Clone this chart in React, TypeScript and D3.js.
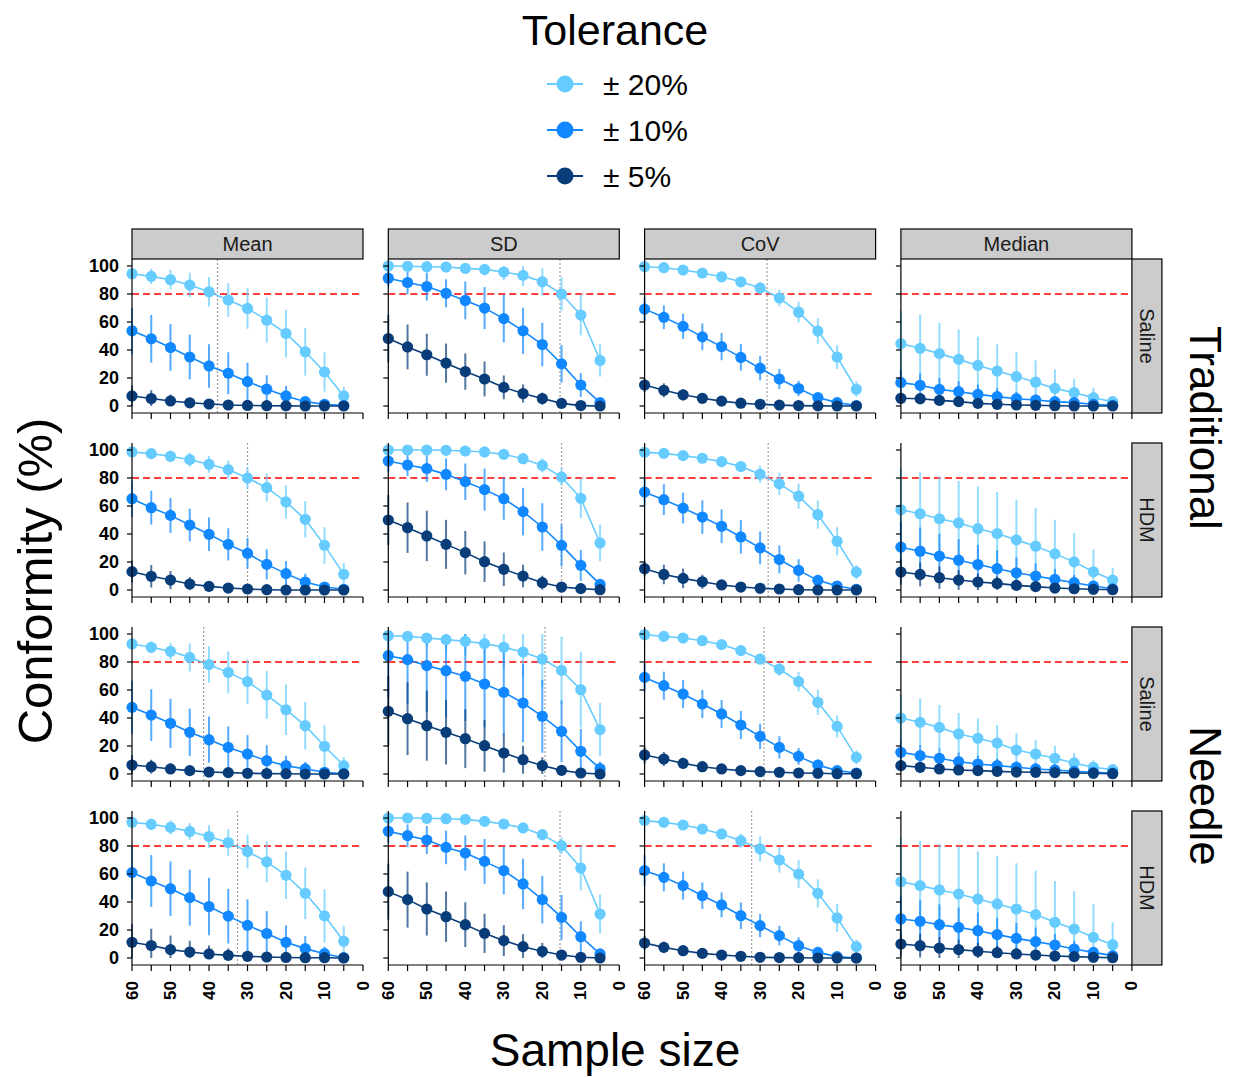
import React from "react";
import * as d3 from "d3";

// ---------- data ----------
const sampleSizes = [60, 55, 50, 45, 40, 35, 30, 25, 20, 15, 10, 5];
const xTicks = [60, 55, 50, 45, 40, 35, 30, 25, 20, 15, 10, 5, 0];
const xTickLabels = [60, 50, 40, 30, 20, 10, 0];
const yTicks = [0, 20, 40, 60, 80, 100];
const metrics = ["Mean", "SD", "CoV", "Median"];
const fluids = ["Saline", "HDM", "Saline", "HDM"];
const methods = ["Traditional", "Needle"];
const toleranceLabels = ["± 20%", "± 10%", "± 5%"];
const toleranceColors = ["#66CCFF", "#1188FF", "#083D7A"];
const threshold = 80;

// Row 1: Traditional / Saline
const tsMean20 = [94.5, 92.6, 90.2, 86.4, 81.6, 75.7, 69.7, 61.3, 51.8, 38.7, 24.3, 7.2];
const tsMean20e = [3, 5.5, 7, 8.7, 10.5, 12, 14.5, 16, 17, 17, 14, 6.5];
const tsMean10 = [53.7, 48, 41.8, 35, 28.6, 23.4, 17.4, 12, 7.2, 3.1, 1.2, 0.3];
const tsMean10e = [16.5, 17, 16.7, 16, 15.5, 15, 13.5, 10, 7, 3.5, 1.5, 0.5];
const tsMean5 = [7.2, 5.3, 3.6, 2.3, 1.4, 0.7, 0.4, 0.2, 0.1, 0, 0, 0];
const tsMean5e = [7.5, 6, 4.5, 3.5, 2.5, 1.5, 1, 0.5, 0, 0, 0, 0];
const tsSD20 = [100, 99.8, 99.5, 99.3, 98.3, 97.6, 95.7, 93.3, 88.7, 80, 65, 32.5];
const tsSD20e = [1, 1.5, 2, 3, 3.5, 4.5, 6, 7.7, 9.7, 12, 14.5, 11.5];
const tsSD10 = [91.3, 88.2, 85.3, 80.5, 75.4, 69.9, 62.4, 53.7, 43.9, 30.1, 15, 2.4];
const tsSD10e = [6, 8.5, 10, 10, 13.5, 15, 17, 16.5, 15.5, 13.5, 8.5, 2.5];
const tsSD5 = [48.2, 42.2, 36.6, 30.6, 24.6, 19.3, 13.3, 8.9, 5.3, 1.9, 0.3, 0];
const tsSD5e = [17, 16, 15, 14, 13, 12.5, 8.5, 6.5, 4.3, 2, 0.5, 0];
const tsCoV20 = [99.5, 98.8, 97.1, 95, 92.3, 88.7, 84.3, 77.1, 67, 53.5, 35, 12];
const tsCoV20e = [0.5, 1, 1.5, 2, 2.5, 3.5, 4.5, 6, 7.5, 9, 8.5, 5.5];
const tsCoV10 = [69.2, 63.4, 56.9, 49.4, 42.4, 34.7, 27, 19.3, 12.5, 6, 2.4, 0.3];
const tsCoV10e = [8.5, 8.5, 9, 9.5, 9.7, 9.5, 8.7, 7.2, 5.5, 3, 1.5, 0.3];
const tsCoV5 = [15, 11.2, 8, 5.5, 3.5, 2, 1.2, 0.6, 0.3, 0.1, 0, 0];
const tsCoV5e = [5, 5, 4, 3, 2, 1.5, 1, 0.5, 0.3, 0, 0, 0];
const tsMedian20 = [44.5, 41.2, 37.4, 33.3, 29, 25, 21, 17, 12.6, 9.5, 6, 3.1];
const tsMedian20e = [23.5, 24, 22, 21.5, 20.5, 19, 17.6, 15.6, 13.6, 10, 7, 4];
const tsMedian10 = [16.7, 14.8, 11.9, 10.2, 8.3, 6.7, 5.2, 4.3, 3.1, 2.4, 1.2, 0.5];
const tsMedian10e = [9, 8.5, 8, 7.5, 7, 6, 5, 4, 3, 2.5, 1.5, 0.5];
const tsMedian5 = [5.5, 5.2, 4, 3.1, 1.9, 1.2, 0.7, 0.5, 0.2, 0, 0, 0];
const tsMedian5e = [4, 4, 3.5, 3, 2.5, 2, 1.5, 1, 0.5, 0.3, 0, 0];
const tsCross = [37.8, 15.4, 28.2, null];

// Row 2: Traditional / HDM
const thMean20 = [98.6, 97.4, 95.5, 93.1, 89.8, 86, 80, 73.1, 62.9, 50.5, 31.9, 11.2];
const thMean20e = [2, 3, 4, 5, 6, 6.5, 8, 10, 12, 13, 13, 8];
const thMean10 = [65.2, 58.8, 53.3, 46.4, 39.8, 32.6, 26.2, 18.3, 11.7, 5.7, 2.1, 0.5];
const thMean10e = [13, 12, 12.5, 11.7, 12, 11.5, 11, 10.7, 9, 6, 2, 0.5];
const thMean5 = [13.1, 9.8, 7.1, 4.3, 2.6, 1.4, 0.7, 0.2, 0, 0, 0, 0];
const thMean5e = [8, 8, 6.5, 5, 3, 2, 1, 0.5, 0, 0, 0, 0];
const thSD20 = [100, 100, 100, 99.8, 99.3, 98.6, 96.9, 93.8, 89, 80.7, 65.5, 33.6];
const thSD20e = [0.5, 1, 1, 1.5, 2, 2.5, 3, 4, 5, 6, 14, 13];
const thSD10 = [92.1, 89.3, 86.7, 82.6, 77.4, 71.7, 65.2, 56, 45, 31.9, 17.6, 4];
const thSD10e = [8, 8, 9.5, 11.4, 13, 15, 15, 17, 17, 15, 11, 3];
const thSD5 = [50, 44.5, 38.6, 32.6, 26.7, 20.2, 14.8, 10, 5.2, 2.1, 1, 0.2];
const thSD5e = [18, 18, 18, 17.5, 15.5, 14.5, 12, 8, 5, 3, 1, 0.3];
const thCoV20 = [98.3, 97.6, 96, 94.1, 91.7, 88.2, 82.7, 75.8, 67, 53.8, 34.8, 12.8];
const thCoV20e = [1.5, 2, 2, 2.5, 3, 4, 6, 8, 9, 10, 10, 5];
const thCoV10 = [69.9, 64.5, 58.5, 52.1, 45.5, 37.9, 30.1, 21.8, 14, 6.9, 2.8, 0.5];
const thCoV10e = [10, 11, 11, 12, 12, 12, 11.7, 10, 8, 4, 2, 0.5];
const thCoV5 = [15.2, 11.1, 8.3, 5.9, 3.6, 2.1, 1.2, 0.7, 0.2, 0, 0, 0];
const thCoV5e = [5.5, 7, 7, 5, 3, 2, 1, 0.5, 0, 0, 0, 0];
const thMedian20 = [57.3, 54.5, 50.9, 47.9, 43.8, 40.3, 35.8, 31.3, 25.8, 20.1, 13, 7.1];
const thMedian20e = [29.7, 29.5, 30, 30, 30, 29.7, 28.7, 27.2, 24.4, 20.7, 16, 8.8];
const thMedian10 = [30.6, 27.7, 24.2, 21.3, 18.2, 15.2, 12.3, 10, 7.6, 5.2, 2.8, 0.9];
const thMedian10e = [18, 17, 16, 15, 14, 13, 11, 9, 7.5, 5.5, 3.5, 1.5];
const thMedian5 = [12.8, 11.1, 8.8, 7.1, 5.7, 4.7, 3.3, 2.4, 1.4, 0.9, 0.5, 0.2];
const thMedian5e = [9, 8.5, 8, 7, 6, 5, 4, 3, 2, 1.5, 1, 0.5];
const thCross = [30, 15, 27.9, null];

// Row 3: Needle / Saline
const nsMean20 = [92.9, 90.5, 87.6, 83.3, 78.1, 72.6, 66, 56.4, 45.9, 34.5, 19.8, 6];
const nsMean20e = [4, 4, 6, 10, 13, 15, 16, 17, 18, 17, 15, 6];
const nsMean10 = [47.6, 42.1, 36.2, 29.8, 24.5, 19, 14.3, 9.5, 6, 3.6, 1.2, 0.2];
const nsMean10e = [19, 18.5, 17.5, 17, 16.5, 15, 13.5, 11, 7, 5, 2, 0.5];
const nsMean5 = [6.4, 5.2, 3.6, 2.4, 1.4, 1, 0.5, 0.3, 0.2, 0, 0, 0];
const nsMean5e = [7, 5, 4, 3, 2, 1.5, 1, 0.5, 0.3, 0, 0, 0];
const nsSD20 = [98.8, 98.3, 97.1, 96, 94.8, 93.1, 90.5, 87.1, 82.1, 74, 60.2, 31.7];
const nsSD20e = [3, 4, 6, 8, 10, 13, 15, 18, 20, 24, 27, 19];
const nsSD10 = [84.5, 81.7, 77.4, 73.8, 69.8, 64.3, 58.3, 50.7, 41.2, 30.5, 16.2, 3.8];
const nsSD10e = [30, 32, 33, 33, 32, 31, 30, 28, 26, 22, 16, 5];
const nsSD5 = [44.8, 39.5, 34.5, 29.8, 25.2, 20.2, 15, 10.2, 6, 2.6, 0.7, 0];
const nsSD5e = [25, 26, 25, 23, 21, 18.5, 14, 10, 6, 3, 1, 0];
const nsCoV20 = [99.5, 98.3, 97.1, 95.2, 92.4, 88.1, 82.1, 75, 66, 51.2, 34, 11.9];
const nsCoV20e = [1, 1.5, 2, 2.5, 3, 3.5, 4, 5, 7, 9, 8, 5];
const nsCoV10 = [69, 63.1, 57.1, 50, 42.9, 35, 26.9, 19, 12.6, 6.4, 2.4, 0.7];
const nsCoV10e = [10, 10, 10, 10, 10, 10, 9, 8, 6, 4, 2, 0.5];
const nsCoV5 = [13.6, 10.7, 7.6, 5.2, 3.6, 2.4, 1.7, 1.2, 0.7, 0.5, 0.2, 0.2];
const nsCoV5e = [6, 5, 4, 3, 2, 1.5, 1, 0.5, 0.3, 0, 0, 0];
const nsMedian20 = [40, 36.9, 33.3, 28.6, 25.5, 22.1, 17.1, 14.3, 11.2, 7.9, 4.8, 3.1];
const nsMedian20e = [17, 17, 16, 15, 14, 13, 12, 10, 9, 7, 5, 3];
const nsMedian10 = [15.5, 13.1, 11.2, 8.8, 7.1, 6, 4.8, 3.6, 2.9, 1.9, 1.2, 0.7];
const nsMedian10e = [8, 7.5, 7, 6.5, 6, 5, 4.5, 4, 3, 2, 1.5, 0.5];
const nsMedian5 = [6, 4.8, 3.6, 2.9, 2.4, 1.9, 1.4, 1.2, 1, 0.7, 0.5, 0.2];
const nsMedian5e = [4, 4, 3.5, 3, 2.5, 2, 1.5, 1, 1, 0.5, 0.3, 0];
const nsCross = [41.4, 19.3, 29, null];

// Row 4: Needle / HDM
const nhMean20 = [96.9, 95.5, 93.3, 90.4, 86.8, 82.5, 76.1, 68.7, 59.1, 46.2, 30.1, 12];
const nhMean20e = [3, 4, 5, 6, 8, 9.5, 12, 14.5, 17, 18.5, 19, 11];
const nhMean10 = [61, 55, 49.5, 43.1, 36.8, 29.9, 23.4, 17.5, 11.2, 6.7, 3.1, 0.2];
const nhMean10e = [19, 18.5, 19.5, 20, 20.5, 19.5, 18.5, 16, 12, 9, 5, 1];
const nhMean5 = [11.2, 8.9, 6, 4.3, 2.9, 1.9, 1.2, 0.7, 0.4, 0.2, 0.2, 0];
const nhMean5e = [13, 12, 10, 8, 6, 5, 3, 2, 1, 0.5, 0.3, 0];
const nhSD20 = [100, 100, 99.8, 99.5, 99, 97.6, 95.7, 92.9, 88.1, 80.2, 64.3, 31.4];
const nhSD20e = [0.5, 1, 1, 1.5, 2, 2.5, 3, 3.5, 4, 6, 16, 14];
const nhSD10 = [90.5, 87.4, 84.3, 79, 75, 69, 62.4, 52.9, 41.7, 29, 15.2, 2.9];
const nhSD10e = [8, 8, 10, 12, 12.5, 16, 17, 18, 17, 16, 11, 3];
const nhSD5 = [47.4, 41.7, 35, 29.5, 23.8, 17.6, 12.4, 8.1, 4.8, 2.1, 0.5, 0];
const nhSD5e = [20, 20, 19, 18, 16, 14, 11, 9, 6, 3, 1, 0];
const nhCoV20 = [98.1, 96.9, 95, 92.1, 88.6, 83.8, 77.9, 70, 60, 46.2, 28.6, 8.1];
const nhCoV20e = [1.5, 2, 2, 2.5, 3, 5, 9, 9, 10, 10, 10, 5];
const nhCoV10 = [62.4, 57.6, 51.7, 44.5, 37.9, 30.2, 23.1, 16, 8.8, 4, 1, 0];
const nhCoV10e = [11, 10, 10, 9.5, 9, 9.5, 8.3, 7, 6, 4, 2, 0.3];
const nhCoV5 = [10.7, 7.6, 5.2, 3.3, 2.1, 1.2, 0.5, 0.3, 0.2, 0, 0, 0];
const nhCoV5e = [5, 4, 3, 2.5, 2, 1.5, 1, 0.5, 0.3, 0, 0, 0];
const nhMedian20 = [54.5, 51.7, 48.6, 45.7, 42.1, 38.6, 35, 31, 25.5, 20.7, 14.8, 9.5];
const nhMedian20e = [31.5, 32, 33, 34, 34, 34.5, 32.6, 31.4, 29.5, 27, 23.8, 16];
const nhMedian10 = [27.9, 26.2, 23.8, 21.9, 19.5, 16.7, 14, 11.7, 9.3, 6.4, 4, 1.7];
const nhMedian10e = [16, 15, 14.5, 14, 13, 12, 11, 10, 8, 6, 4, 2];
const nhMedian5 = [10, 8.8, 7.1, 6, 4.8, 3.8, 2.9, 2.1, 1.4, 1, 0.5, 0.2];
const nhMedian5e = [9, 8.5, 8, 7, 6, 5, 4, 3, 2, 1.5, 1, 0.5];
const nhCross = [32.6, 15.4, 32.2, null];

// panel table: rows x metrics x tolerances
const rowsData = [
  { cross: tsCross, panels: [
    [[tsMean20, tsMean20e], [tsMean10, tsMean10e], [tsMean5, tsMean5e]],
    [[tsSD20, tsSD20e], [tsSD10, tsSD10e], [tsSD5, tsSD5e]],
    [[tsCoV20, tsCoV20e], [tsCoV10, tsCoV10e], [tsCoV5, tsCoV5e]],
    [[tsMedian20, tsMedian20e], [tsMedian10, tsMedian10e], [tsMedian5, tsMedian5e]],
  ] },
  { cross: thCross, panels: [
    [[thMean20, thMean20e], [thMean10, thMean10e], [thMean5, thMean5e]],
    [[thSD20, thSD20e], [thSD10, thSD10e], [thSD5, thSD5e]],
    [[thCoV20, thCoV20e], [thCoV10, thCoV10e], [thCoV5, thCoV5e]],
    [[thMedian20, thMedian20e], [thMedian10, thMedian10e], [thMedian5, thMedian5e]],
  ] },
  { cross: nsCross, panels: [
    [[nsMean20, nsMean20e], [nsMean10, nsMean10e], [nsMean5, nsMean5e]],
    [[nsSD20, nsSD20e], [nsSD10, nsSD10e], [nsSD5, nsSD5e]],
    [[nsCoV20, nsCoV20e], [nsCoV10, nsCoV10e], [nsCoV5, nsCoV5e]],
    [[nsMedian20, nsMedian20e], [nsMedian10, nsMedian10e], [nsMedian5, nsMedian5e]],
  ] },
  { cross: nhCross, panels: [
    [[nhMean20, nhMean20e], [nhMean10, nhMean10e], [nhMean5, nhMean5e]],
    [[nhSD20, nhSD20e], [nhSD10, nhSD10e], [nhSD5, nhSD5e]],
    [[nhCoV20, nhCoV20e], [nhCoV10, nhCoV10e], [nhCoV5, nhCoV5e]],
    [[nhMedian20, nhMedian20e], [nhMedian10, nhMedian10e], [nhMedian5, nhMedian5e]],
  ] },
];

// ---------- layout ----------
const W = 1238;
const H = 1077;
const FONT = "Arial, 'Liberation Sans', Helvetica, sans-serif";
const panelLeft0 = 132;
const panelStep = 256.3;
const panelW = 231;
const panelTop0 = 259;
const rowStep = 184;
const panelH = 154;
const stripH = 30;
const rStripW = 30;

function Panel({ row, col }: { row: number; col: number }) {
  const left = panelLeft0 + col * panelStep;
  const top = panelTop0 + row * rowStep;
  const x = d3.scaleLinear().domain([60, 0]).range([left, left + panelW]);
  const y = d3.scaleLinear().domain([-5, 105]).range([top + panelH, top]);
  const series = rowsData[row].panels[col];
  const cross = rowsData[row].cross[col];
  const line = d3
    .line<number>()
    .x((_, i) => x(sampleSizes[i]))
    .y((v) => y(v));
  const bottom = top + panelH;
  return (
    <g>
      {/* reference lines */}
      <line x1={left} x2={left + panelW} y1={y(threshold)} y2={y(threshold)} stroke="#FF0000" strokeWidth={1.4} strokeDasharray="7,4" />
      {cross != null && (
        <line x1={x(cross)} x2={x(cross)} y1={top} y2={bottom} stroke="#A0A0A0" strokeWidth={1.2} strokeDasharray="2,2" />
      )}
      {/* error bars */}
      {series.map(([vals, errs], s) => (
        <g key={"e" + s} stroke={toleranceColors[s]} strokeWidth={2} opacity={0.7}>
          {vals.map((v, i) => (
            <line key={i} x1={x(sampleSizes[i])} x2={x(sampleSizes[i])} y1={y(Math.max(0, v - errs[i]))} y2={y(Math.min(100, v + errs[i]))} />
          ))}
        </g>
      ))}
      {/* lines */}
      {series.map(([vals], s) => (
        <path key={"l" + s} d={line(vals) || ""} fill="none" stroke={toleranceColors[s]} strokeWidth={1.6} />
      ))}
      {/* points */}
      {series.map(([vals], s) => (
        <g key={"p" + s} fill={toleranceColors[s]}>
          {vals.map((v, i) => (
            <circle key={i} cx={x(sampleSizes[i])} cy={y(v)} r={5.6} />
          ))}
        </g>
      ))}
      {/* axes */}
      <line x1={left} x2={left} y1={top} y2={bottom} stroke="#000" strokeWidth={1.2} />
      <line x1={left} x2={left + panelW} y1={bottom} y2={bottom} stroke="#000" strokeWidth={1.2} />
      {yTicks.map((t) => (
        <g key={"yt" + t}>
          <line x1={left - 5} x2={left} y1={y(t)} y2={y(t)} stroke="#000" strokeWidth={1.2} />
          {col === 0 && (
            <text x={left - 13} y={y(t)} textAnchor="end" dominantBaseline="central" fontFamily={FONT} fontWeight="bold" fontSize={18} fill="#000">
              {t}
            </text>
          )}
        </g>
      ))}
      {xTicks.map((t) => (
        <line key={"xt" + t} x1={x(t)} x2={x(t)} y1={bottom} y2={bottom + 6} stroke="#000" strokeWidth={1.2} />
      ))}
      {row === 3 &&
        xTickLabels.map((t) => (
          <text key={"xl" + t} transform={`translate(${x(t)},${bottom + 16}) rotate(-90)`} textAnchor="end" dominantBaseline="central" fontFamily={FONT} fontWeight="bold" fontSize={17} fill="#000">
            {t}
          </text>
        ))}
      {/* top strip */}
      {row === 0 && (
        <g>
          <rect x={left} y={top - stripH} width={panelW} height={stripH} fill="#CCCCCC" stroke="#000" strokeWidth={1.2} />
          <text x={left + panelW / 2} y={top - stripH / 2} textAnchor="middle" dominantBaseline="central" fontFamily={FONT} fontSize={20} fill="#1a1a1a">
            {metrics[col]}
          </text>
        </g>
      )}
      {/* right strip */}
      {col === 3 && (
        <g>
          <rect x={left + panelW} y={top} width={rStripW} height={panelH} fill="#CCCCCC" stroke="#000" strokeWidth={1.2} />
          <text transform={`translate(${left + panelW + rStripW / 2},${top + panelH / 2}) rotate(90)`} textAnchor="middle" dominantBaseline="central" fontFamily={FONT} fontSize={20} fill="#1a1a1a">
            {fluids[row]}
          </text>
        </g>
      )}
    </g>
  );
}

function Legend() {
  const cx = 565;
  const ys = [84, 130, 176];
  return (
    <g>
      <text x={615} y={30} textAnchor="middle" dominantBaseline="central" fontFamily={FONT} fontSize={43} fill="#000">
        Tolerance
      </text>
      {toleranceLabels.map((lab, i) => (
        <g key={lab}>
          <line x1={cx - 18} x2={cx + 18} y1={ys[i]} y2={ys[i]} stroke={toleranceColors[i]} strokeWidth={2} />
          <circle cx={cx} cy={ys[i]} r={8.5} fill={toleranceColors[i]} />
          <text x={603} y={ys[i]} dominantBaseline="central" fontFamily={FONT} fontSize={30} fill="#000">
            {lab}
          </text>
        </g>
      ))}
    </g>
  );
}

export default function App() {
  const rightX = 1205;
  return (
    <svg width={W} height={H} style={{ position: "absolute", left: 0, top: 0, background: "#fff" }}>
      <rect x={0} y={0} width={W} height={H} fill="#fff" />
      <Legend />
      {[0, 1, 2, 3].map((r) => [0, 1, 2, 3].map((c) => <Panel key={r + "-" + c} row={r} col={c} />))}
      <text transform={`translate(35,581) rotate(-90)`} textAnchor="middle" dominantBaseline="central" fontFamily={FONT} fontSize={49} fill="#000">
        Conformity (%)
      </text>
      <text x={615} y={1050} textAnchor="middle" dominantBaseline="central" fontFamily={FONT} fontSize={46} fill="#000">
        Sample size
      </text>
      {methods.map((m, i) => {
        const top = panelTop0 + i * 2 * rowStep;
        const cy = (top + top + rowStep + panelH) / 2;
        return (
          <text key={m} transform={`translate(${rightX},${cy}) rotate(90)`} textAnchor="middle" dominantBaseline="central" fontFamily={FONT} fontSize={44} fill="#000">
            {m}
          </text>
        );
      })}
    </svg>
  );
}
